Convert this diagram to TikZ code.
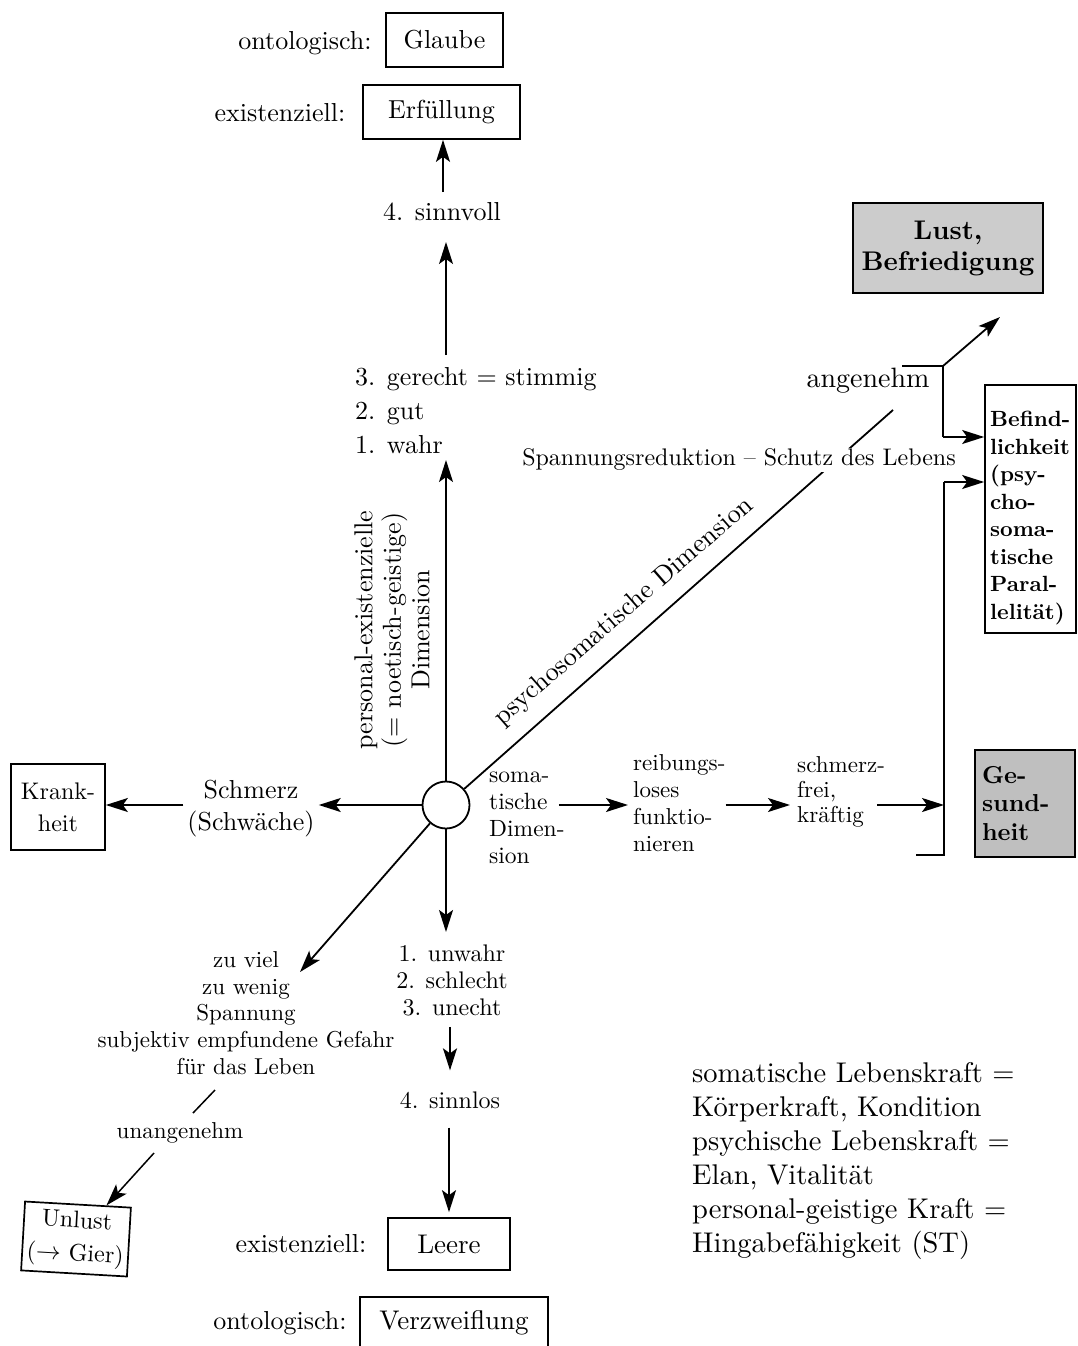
\documentclass[tikz,border=0pt]{standalone}
\usepackage{fontspec}
\setmainfont{lmroman10-regular.otf}[BoldFont=lmroman10-bold.otf,ItalicFont=lmroman10-italic.otf]
\usetikzlibrary{arrows.meta}
\newcommand{\fsz}[2]{\fontsize{#1}{#2}\selectfont}
\begin{document}
\begin{tikzpicture}[x=1pt,y=-1pt,
  ln/.style={line width=1.8pt},
  arr/.style={line width=1.8pt,-{Stealth[length=22pt,width=14pt,inset=5pt]}},
  bx/.style={draw,line width=1.7pt,inner sep=0pt,align=center},
  t/.style={inner sep=0pt,align=center},
]
\fill[white] (0,0) rectangle (1077,1346);
\useasboundingbox (0,0) rectangle (1077,1346);

% centre
\node[circle,draw,line width=1.8pt,minimum size=47pt,inner sep=0pt] (c) at (446,805) {};

% top
\node[t,font=\fsz{26}{30}] (onto1) at (305,43) {ontologisch:};
\node[bx,minimum width=117pt,minimum height=54pt,font=\fsz{26}{30}] (glaube) at (444.5,40) {Glaube};
\node[t,font=\fsz{26}{30}] (exist1) at (280,113) {existenziell:};
\node[bx,minimum width=157pt,minimum height=54pt,font=\fsz{26}{30}] (erf) at (441.5,112) {Erfüllung};
\node[t,font=\fsz{26}{30}] (sinnvoll) at (442,212) {4. sinnvoll};
\coordinate (sv) at (443,192);
\draw[arr] (sv) -- (erf.south -| sv);
\coordinate (sa) at (446,355);
\coordinate (sb) at (446,242);
\draw[arr] (sa) -- (sb);
\node[t,align=left,anchor=west,font=\fsz{26}{34}] (gerecht) at (355,411) {3. gerecht = stimmig\\2. gut\\1. wahr};
\coordinate (uptip) at (446,460);
\draw[arr] (c.north) -- (uptip);

\node[t,rotate=90,font=\fsz{26}{28.5}] (pdim) at (392,630) {personal-existenzielle\\(= noetisch-geistige)\\Dimension};

% psychosomatic diagonal
\coordinate (pe) at (893,410);
\draw[ln] (c) -- (pe);
\node[t,rotate=41,font=\fsz{26.5}{30}] (psy) at (624,612) {psychosomatische Dimension};
\node[t,fill=white,inner sep=1pt,font=\fsz{24}{28}] (span) at (739,460) {Spannungsreduktion -- Schutz des Lebens};
\node[t,font=\fsz{28}{32}] (ang) at (868,381) {angenehm};

\node[bx,fill=gray!40,minimum width=190pt,minimum height=90pt,font=\bfseries\fsz{27}{31}] (lust) at (948,248) {Lust,\\Befriedigung};
\node[bx,minimum width=91pt,minimum height=248pt] (befind) at (1030.5,509) {};
\node[t,align=left,anchor=north west,font=\bfseries\fsz{22}{27.5}] (befindtxt) at (990,411) {Befind-\\lichkeit\\(psy-\\cho-\\soma-\\tische\\Paral-\\lelität)};

\coordinate (b1) at (902,366);
\coordinate (b2) at (943,366);
\coordinate (b3) at (943,437);
\coordinate (lt) at (1000,317);
\draw[ln] (b1) -- (b2) -- (b3);
\draw[arr] (b2) -- (lt);
\draw[arr] (b3) -- (b3 -| befind.west);

\coordinate (b4) at (944,482);
\coordinate (b5) at (944,855);
\coordinate (b6) at (916,855);
\draw[ln] (b6) -- (b5) -- (b4);
\draw[arr] (b4) -- (b4 -| befind.west);

% somatic row
\node[t,align=left,anchor=west,font=\fsz{23.5}{27}] (soma) at (489,818) {soma-\\tische\\Dimen-\\sion};
\node[t,align=left,anchor=west,font=\fsz{23}{27}] (reib) at (633,803) {reibungs-\\loses\\funktio-\\nieren};
\node[t,align=left,anchor=west,font=\fsz{23}{25}] (frei) at (797,792) {schmerz-\\frei,\\kräftig};
\node[bx,fill=gray!50,minimum width=100pt,minimum height=107pt,text width=86pt,align=left,font=\bfseries\fsz{24.5}{28.5}] (ges) at (1025,803.5) {Ge-\\sund-\\heit};
\draw[arr,shorten <=-6pt,shorten >=5pt] (soma.east |- c) -- (reib.west |- c);
\draw[arr,shorten >=7pt] (reib.east |- c) -- (frei.west |- c);
\draw[arr,shorten <=-8pt] (frei.east |- c) -- (b4 |- c);

% left
\node[bx,minimum width=94pt,minimum height=86pt,font=\fsz{24}{32}] (krank) at (58,807) {Krank-\\heit};
\node[t,inner sep=4pt,font=\fsz{26}{32}] (schmerz) at (251,809) {Schmerz\\(Schwäche)};
\draw[arr] (c.west) -- (c.west -| schmerz.east);
\draw[arr] (schmerz.west |- c.west) -- (krank.east |- c.west);

% down
\coordinate (dtip) at (446,932);
\draw[arr] (c.south) -- (dtip);
\node[t,font=\fsz{24}{27}] (unwahr) at (452,980) {1. unwahr\\2. schlecht\\3. unecht};
\node[t,font=\fsz{24}{28}] (sinnlos) at (450,1100) {4. sinnlos};
\draw[arr,shorten <=11pt,shorten >=21pt] (unwahr.south -| sinnlos.north) -- (sinnlos.north);
\node[bx,minimum width=122pt,minimum height=52pt,font=\fsz{27}{30}] (leere) at (449,1244) {Leere};
\node[t,font=\fsz{26}{30}] (exist2) at (301,1244) {existenziell:};
\node[bx,minimum width=188pt,minimum height=52pt,font=\fsz{27}{30}] (verz) at (454,1323) {Verzweiflung};
\node[t,font=\fsz{26}{30}] (onto2) at (280,1323) {ontologisch:};
\draw[arr,shorten <=19pt,shorten >=5pt] (sinnlos.south -| leere.north) -- (leere.north);

% lower left
\coordinate (lltip) at (300,972);
\draw[arr] (c) -- (lltip);
\node[t,font=\fsz{23}{26.75}] (zuviel) at (246,1013) {zu viel\\zu wenig\\Spannung\\subjektiv empfundene Gefahr\\für das Leben};
\coordinate (sl1) at (215,1090);
\coordinate (sl2) at (193,1113);
\draw[line width=1.5pt] (sl1) -- (sl2);
\node[t,font=\fsz{23}{26}] (unang) at (180,1133) {unangenehm};
\node[bx,rotate=-3.3,minimum width=106pt,minimum height=69pt,font=\fsz{24}{33}] (unlust) at (76,1239) {Unlust\\($\rightarrow$ Gier)};
\coordinate (ua) at (154,1153);
\draw[arr,line width=1.5pt] (ua) -- (unlust);

% right bottom text
\node[t,align=left,anchor=west,font=\fsz{28.5}{34}] (kraft) at (692,1161) {somatische Lebenskraft =\\Körperkraft, Kondition\\psychische Lebenskraft =\\Elan, Vitalität\\personal-geistige Kraft =\\Hingabefähigkeit (ST)};
\end{tikzpicture}
\end{document}
